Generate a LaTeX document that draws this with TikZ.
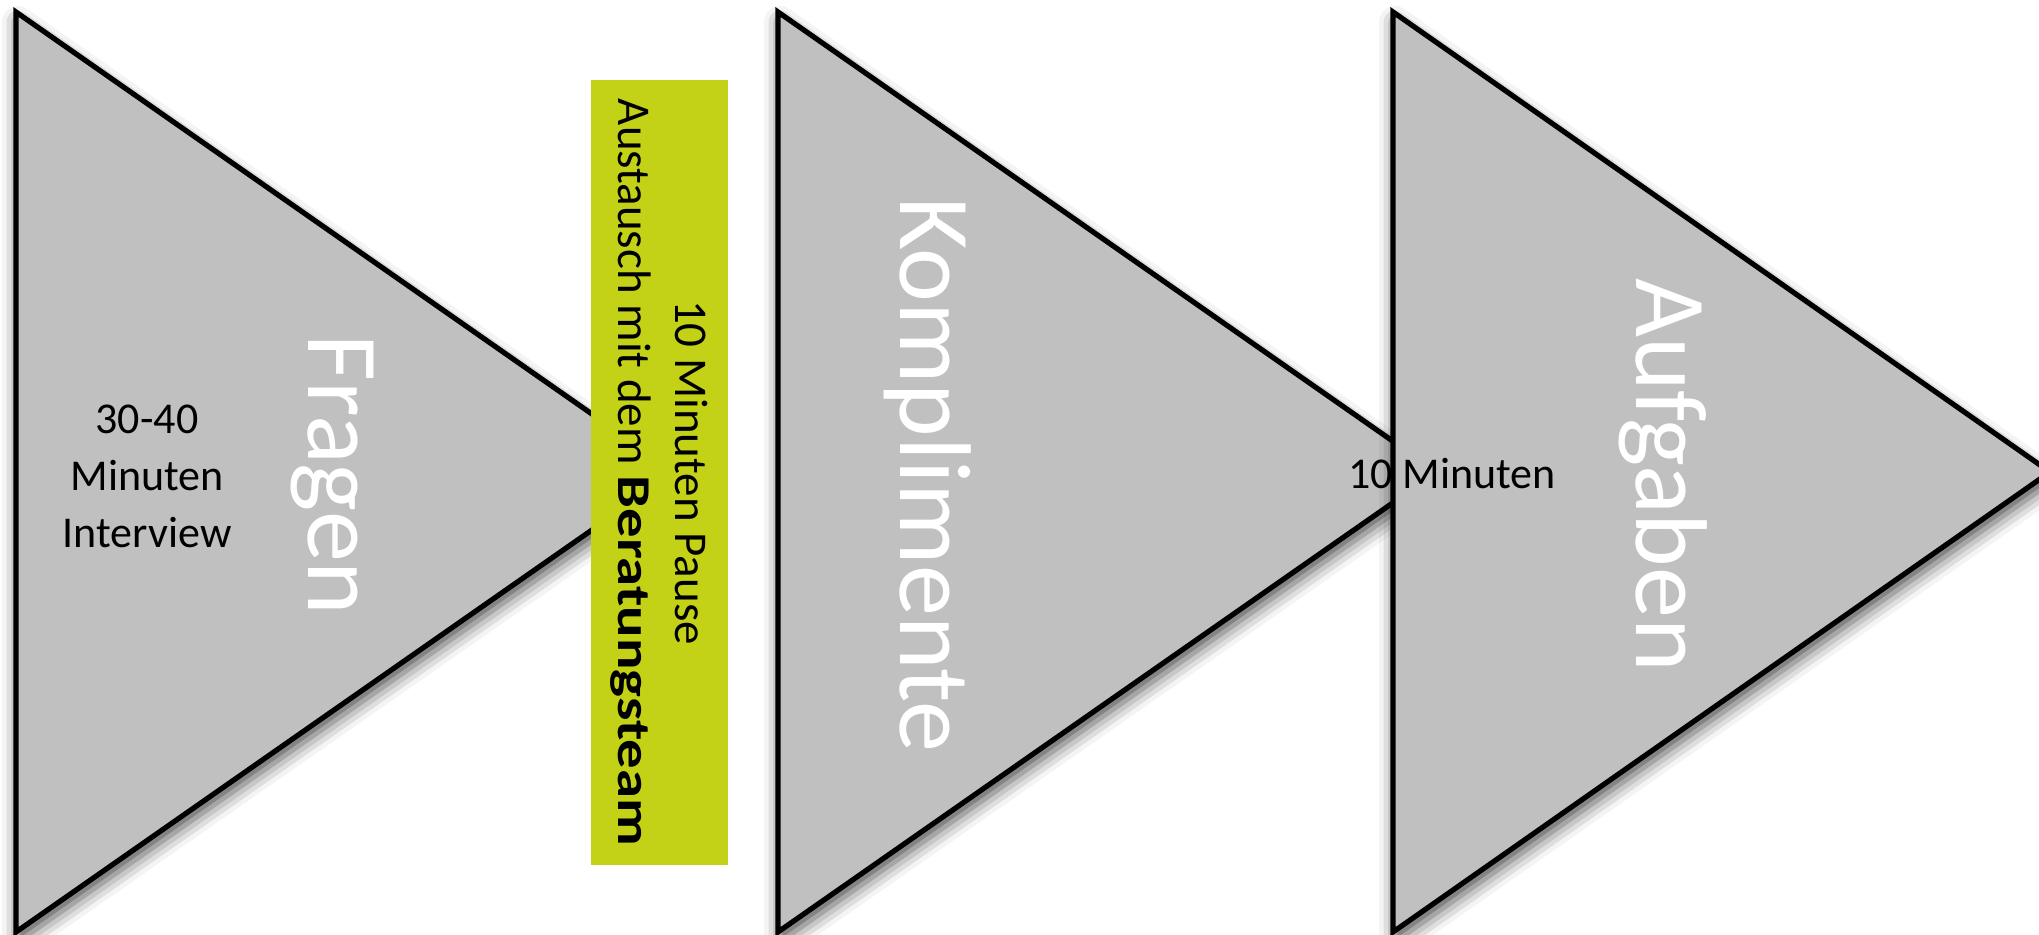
\documentclass[tikz,border=0pt]{standalone}
\usepackage{fontspec}
\setmainfont{Carlito}
\usetikzlibrary{shadows.blur}
\definecolor{stagegray}{HTML}{C0C0C0}
\definecolor{pausegreen}{HTML}{C3D217}

\begin{document}
\begin{tikzpicture}[x=0.5pt, y=-0.5pt,
  stage/.style={draw=black, line width=2.6pt, fill=stagegray, line join=miter,
                blur shadow={shadow xshift=1pt, shadow yshift=-5pt,
                             shadow blur radius=8pt, shadow opacity=70}},
  title/.style={text=white, rotate=-90, anchor=base,
                font=\fontsize{51}{51}\selectfont},
  note/.style={align=center, inner sep=0pt, font=\fontsize{22}{28.5}\selectfont}
]
\useasboundingbox (0,0) rectangle (2039,935);

% Stages
\draw[stage] (16,12) -- (675,472) -- (16,932) -- cycle;
\node[fill=pausegreen, inner sep=0pt, minimum width=68.5pt,
      minimum height=392.5pt] (pausebar) at (659.5,472.5) {};
\draw[stage] (778,12) -- (1437,472) -- (778,932) -- cycle;
\draw[stage] (1393,12) -- (2050,472) -- (1393,932) -- cycle;

% Titles
\node[title] (fragen) at (308,475) {Fragen};
\node[title] (komplimente) at (900,475) {Komplimente};
\node[title] (aufgaben) at (1636,475) {Aufgaben};

% Times
\node[note] (interview) at (147,476) {30-40\\Minuten\\Interview};
\node[note, rotate=-90, font=\fontsize{23.5}{28.5}\selectfont] (pause)
  at (pausebar.center)
  {10 Minuten Pause\\Austausch mit dem
   \textbf{\addfontfeatures{FakeStretch=1.25}Beratungsteam}};
\node[note] (zehn) at (1452,474) {10 Minuten};

\end{tikzpicture}
\end{document}
